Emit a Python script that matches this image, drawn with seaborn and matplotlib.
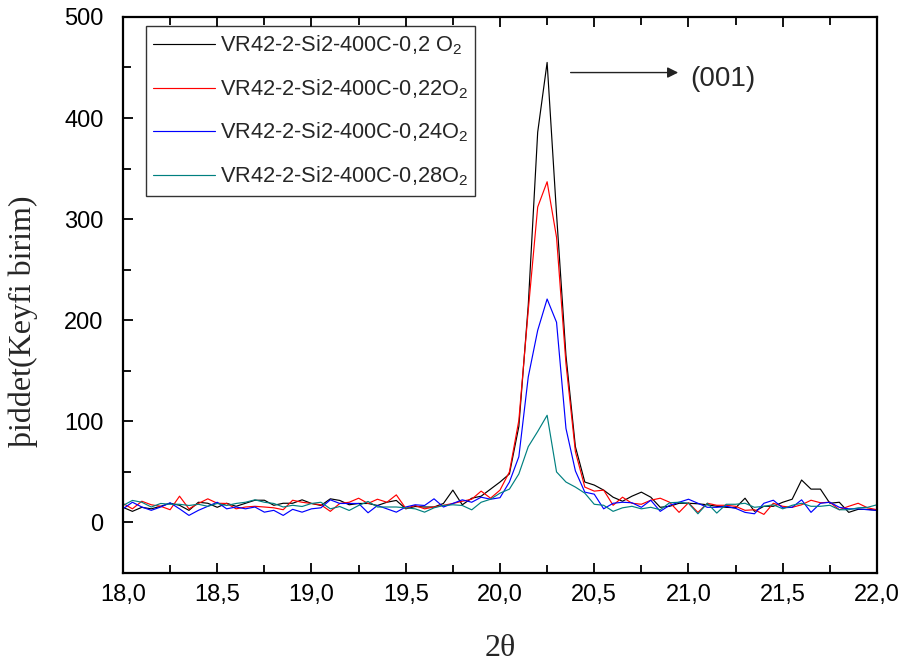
import numpy as np
import pandas as pd
import matplotlib
matplotlib.use("Agg")
import matplotlib.pyplot as plt
from matplotlib.ticker import MultipleLocator, FuncFormatter
import seaborn as sns

# 2-theta scan, 18.00 .. 22.00 in 0.05 steps
two_theta = np.round(np.arange(18.0, 22.0001, 0.05), 2)

int_020 = [15, 11, 15, 13.5, 16, 19, 17, 12, 20, 19, 15, 19, 16, 19, 22, 22, 17, 19, 19,
           22.4, 18.8, 16.8, 23.4, 21.8, 17.5, 18.8, 18.8, 16.8, 20, 21.8, 13.5, 15.8, 15.3,
           15.3, 18.8, 32, 17.5,
           24, 26, 33, 40, 48, 95, 215, 386, 455, 305, 165, 75, 40,
           37, 32, 25, 21, 26, 30, 25, 15, 16, 19, 19, 18.5, 17.5, 16, 15,
           14.5, 24, 11, 16, 16, 20, 23, 42, 33, 33, 19, 20, 10, 13, 13, 12]

int_022 = [18.8, 13.5, 21, 17.5, 16, 12.6, 26, 13.5, 18.8, 23.4, 19, 18.8, 13.5, 15.3, 16,
           15.3, 14.5, 12.6, 22,
           20, 18.8, 17.5, 11, 18.8, 20, 24, 18.8, 23, 20, 27.3, 14, 16.8, 13.5, 15.3, 17,
           18.8, 21,
           23, 31, 24, 32, 50, 101, 210, 312, 337, 282, 157, 70, 35,
           31, 32, 17, 25, 19, 18, 22, 24, 20, 10, 19.5, 10, 19, 17, 17,
           16, 12, 12.6, 8, 19, 16, 15, 17.5, 22, 19.5, 20, 12.6, 16, 19, 14.5, 12.6]

int_024 = [13.5, 20, 15.3, 12, 15.3, 19.5, 13.5, 7, 12, 16, 20, 13.5, 15.3, 13.5, 15.3,
           10.2, 12, 7, 13,
           10.2, 13.5, 14.5, 22.4, 18.8, 18.8, 18.8, 9.6, 16.8, 13.5, 10.2, 15.3, 17.5, 16.8,
           23.4, 15.3, 18.8, 22.4,
           20, 25, 23, 24.5, 40, 65, 144, 190, 221, 198, 93, 51, 30,
           28, 13.5, 19, 20, 19.5, 15, 22, 11, 17, 20, 23, 19, 15, 15, 16,
           14, 10, 8.6, 19, 22, 14.5, 15, 22.4, 10, 19, 20, 15, 13.5, 13.5, 12.6, 12]

int_028 = [16.8, 21.8, 20, 15.3, 18.8, 18, 18, 16.8, 18, 16, 18.8, 16.8, 18.8, 20, 22.4,
           20, 18.8, 15.3, 17,
           15.8, 18.8, 20, 13.5, 15.8, 11.9, 16.8, 20.8, 15.3, 15.3, 15.3, 14.5, 13.5, 10.2,
           14.5, 16.8, 17.5, 16.8,
           12.5, 20, 23, 29, 33, 48, 75, 90, 106, 50, 40, 35, 29,
           18, 17, 11, 14.5, 16, 13.5, 15, 12.6, 19.5, 20, 19, 8.6, 19, 9.3, 18,
           18, 19, 15, 16, 17.5, 13.5, 17, 19, 16, 16, 17, 12.6, 12.6, 14.5, 15, 17.5]

series_labels = [
    r"VR42-2-Si2-400C-0,2 O$_\mathregular{2}$",
    r"VR42-2-Si2-400C-0,22O$_\mathregular{2}$",
    r"VR42-2-Si2-400C-0,24O$_\mathregular{2}$",
    r"VR42-2-Si2-400C-0,28O$_\mathregular{2}$",
]
series_colors = ["#000000", "#ff0000", "#0000ff", "#008080"]

x_ticks = [18.0, 18.5, 19.0, 19.5, 20.0, 20.5, 21.0, 21.5, 22.0]
y_ticks = [0, 100, 200, 300, 400, 500]
peak_label = "(001)"

frames = []
for lab, vals in zip(series_labels, [int_020, int_022, int_024, int_028]):
    frames.append(pd.DataFrame({"2theta": two_theta, "intensity": vals, "sample": lab}))
df = pd.concat(frames, ignore_index=True)

sns.set_style("ticks")
plt.rcParams["font.family"] = ["Liberation Sans", "DejaVu Sans"]
plt.rcParams["mathtext.fontset"] = "custom"
plt.rcParams["mathtext.rm"] = "Liberation Sans"
plt.rcParams["mathtext.fallback"] = "cm"

fig = plt.figure(figsize=(9.03, 6.62), dpi=100)
ax = fig.add_axes([0.1362, 0.1344, 0.835, 0.84])

sns.lineplot(data=df, x="2theta", y="intensity", hue="sample",
             palette=dict(zip(series_labels, series_colors)),
             linewidth=0.85, ax=ax, legend=False, sort=False)

ax.set_xlim(18.0, 22.0)
ax.set_ylim(-50, 500)
ax.set_xticks(x_ticks)
ax.set_yticks(y_ticks)
ax.xaxis.set_minor_locator(MultipleLocator(0.25))
ax.yaxis.set_minor_locator(MultipleLocator(50))
ax.xaxis.set_major_formatter(FuncFormatter(lambda v, p: f"{v:.1f}".replace(".", ",")))

for s in ax.spines.values():
    s.set_visible(True)
    s.set_linewidth(1.6)
    s.set_color("black")

ax.tick_params(axis="both", which="both", direction="in", width=1.3,
               labelsize=17, colors="black")
ax.tick_params(axis="y", which="both", pad=14)
ax.tick_params(axis="x", which="both", pad=8)
ax.tick_params(axis="both", which="major", length=7)
ax.tick_params(axis="both", which="minor", length=6)
ax.tick_params(axis="x", which="both", top=True, labeltop=False)

ax.set_xlabel("2θ", fontsize=23, family=["Liberation Serif"], labelpad=20)
ax.set_ylabel("þiddet(Keyfi birim)", fontsize=23, family=["Liberation Serif"])
ax.yaxis.set_label_coords(-0.113, 0.453)

handles = [plt.Line2D([], [], color=c, linewidth=0.85) for c in series_colors]
leg = ax.legend(handles, series_labels, loc="upper left", bbox_to_anchor=(0.030, 0.984),
                frameon=True, fancybox=False, edgecolor="black", fontsize=15.7,
                handlelength=2.85, handletextpad=0.2, borderpad=0.35, labelspacing=0.92,
                borderaxespad=0)
leg.get_frame().set_linewidth(1.0)

ax.annotate("", xy=(20.96, 445), xytext=(20.36, 445),
            arrowprops=dict(arrowstyle="-|>", color="#222222", lw=1.0,
                            mutation_scale=16))
ax.text(21.01, 439, peak_label, fontsize=20, va="center", ha="left")

fig.savefig("out.png", dpi=100)
